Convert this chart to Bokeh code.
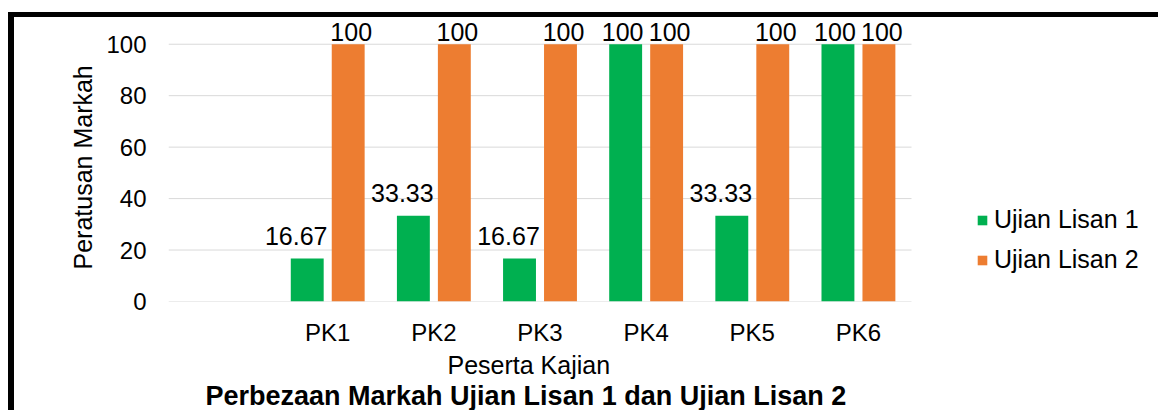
from bokeh.plotting import figure
from bokeh.models import (ColumnDataSource, Range1d, FixedTicker, Legend,
                          LegendItem, LabelSet, Title)
from bokeh.core.properties import value
from bokeh.embed import file_html
from bokeh.resources import INLINE

# ---- data ----
categories = ["PK1", "PK2", "PK3", "PK4", "PK5", "PK6"]
lisan1 = [16.67, 33.33, 16.67, 100, 33.33, 100]
lisan2 = [100, 100, 100, 100, 100, 100]
series_names = ["Ujian Lisan 1", "Ujian Lisan 2"]
y_ticks = [0, 20, 40, 60, 80, 100]

GREEN = "#00B050"
ORANGE = "#ED7D31"
FONT = "Liberation Sans"

# category slots: slot 0 is an empty category, PK1..PK6 occupy slots 1..6
n_slots = len(categories) + 1
pos = [i + 1 for i in range(len(categories))]
DODGE = 0.193
BAR_W = 0.31

def fmt(v):
    return f"{v:g}"

source = ColumnDataSource(dict(
    x1=[x - DODGE for x in pos],
    x2=[x + DODGE for x in pos],
    l1=lisan1,
    l2=lisan2,
    t1=[fmt(v) for v in lisan1],
    t2=[fmt(v) for v in lisan2],
    xo1=[-3 if v >= 100 else -11 for v in lisan1],
    yo1=[3 if v >= 100 else 14 for v in lisan1],
))

FRAME_W = 1144 - 154          # frame spans to the right edge (legend lives there)
SLOT_PX = 743 / n_slots       # width of one category slot in pixels
x_end = -0.5 + FRAME_W / SLOT_PX

p = figure(
    x_range=Range1d(-0.5, x_end),
    y_range=Range1d(0, 110),
    width=1144, height=393,
    output_backend="svg", toolbar_location=None,
    min_border_left=154, min_border_right=0, min_border_top=1, min_border_bottom=106,
    outline_line_color=None, background_fill_color="white", border_fill_color="white",
)
p.styles = {
    "margin-left": "14px", "margin-top": "17px",
    "box-shadow": "-6px -5px 0 0 #000000, 0 -5px 0 0 #000000, -6px 0 0 0 #000000",
}

# horizontal gridlines limited to the category area
grid_src = ColumnDataSource(dict(x0=[-0.5] * len(y_ticks),
                                 x1=[n_slots - 0.5] * len(y_ticks),
                                 y=y_ticks))
p.segment(x0="x0", x1="x1", y0="y", y1="y", source=grid_src,
          line_color="#D9D9D9", line_width=1)

r1 = p.vbar(x="x1", top="l1", width=BAR_W, source=source,
            fill_color=GREEN, line_color=None)
r2 = p.vbar(x="x2", top="l2", width=BAR_W, source=source,
            fill_color=ORANGE, line_color=None)

lab_style = dict(text_font=value(FONT), text_font_size="25px", text_color="#000000",
                 text_align="center", text_baseline="alphabetic")
ls1 = LabelSet(x="x1", y="l1", text="t1", x_offset="xo1", y_offset="yo1",
               source=source, **lab_style)
ls2 = LabelSet(x="x2", y="l2", text="t2", x_offset=3, y_offset=3,
               source=source, **lab_style)
p.add_layout(ls1)
p.add_layout(ls2)

p.xgrid.grid_line_color = None
p.ygrid.grid_line_color = None

# y axis
p.yaxis.ticker = FixedTicker(ticks=y_ticks)
p.yaxis.axis_line_color = None
p.yaxis.major_tick_line_color = None
p.yaxis.minor_tick_line_color = None
p.yaxis.major_tick_out = 0
p.yaxis.major_label_standoff = 22
p.yaxis.major_label_text_font = FONT
p.yaxis.major_label_text_font_size = "24px"
p.yaxis.major_label_text_color = "#000000"

# x axis
p.xaxis.ticker = FixedTicker(ticks=pos)
p.xaxis.major_label_overrides = {x: c for x, c in zip(pos, categories)}
p.xaxis.axis_line_color = None
p.xaxis.major_tick_line_color = None
p.xaxis.minor_tick_line_color = None
p.xaxis.major_tick_out = 0
p.xaxis.major_label_standoff = 17
p.xaxis.major_label_text_font = FONT
p.xaxis.major_label_text_font_size = "24px"
p.xaxis.major_label_text_color = "#000000"

# titles
xt = Title(text="Peserta Kajian", align="left", offset=279, standoff=0,
           text_font=FONT, text_font_size="25px", text_font_style="normal",
           text_color="#000000")
p.add_layout(xt, "below")
mt = Title(text="Perbezaan Markah Ujian Lisan 1 dan Ujian Lisan 2", align="left",
           offset=37, standoff=0, text_font=FONT, text_font_size="27px",
           text_font_style="bold", text_color="#000000")
p.add_layout(mt, "below")
yt = Title(text="Peratusan Markah", align="left", offset=32, standoff=14,
           text_font=FONT, text_font_size="25px", text_font_style="normal",
           text_color="#000000")
p.add_layout(yt, "left")

# legend, to the right of the bars
legend = Legend(items=[LegendItem(label=series_names[0], renderers=[r1]),
                       LegendItem(label=series_names[1], renderers=[r2])],
                location=(808, 27), orientation="vertical",
                glyph_width=12, glyph_height=12, label_standoff=6,
                label_text_font=FONT, label_text_font_size="25px",
                label_text_color="#000000", spacing=11, padding=0, margin=0,
                border_line_color=None, background_fill_alpha=0)
p.add_layout(legend, "center")

open("out.html", "w").write(file_html(p, INLINE))
